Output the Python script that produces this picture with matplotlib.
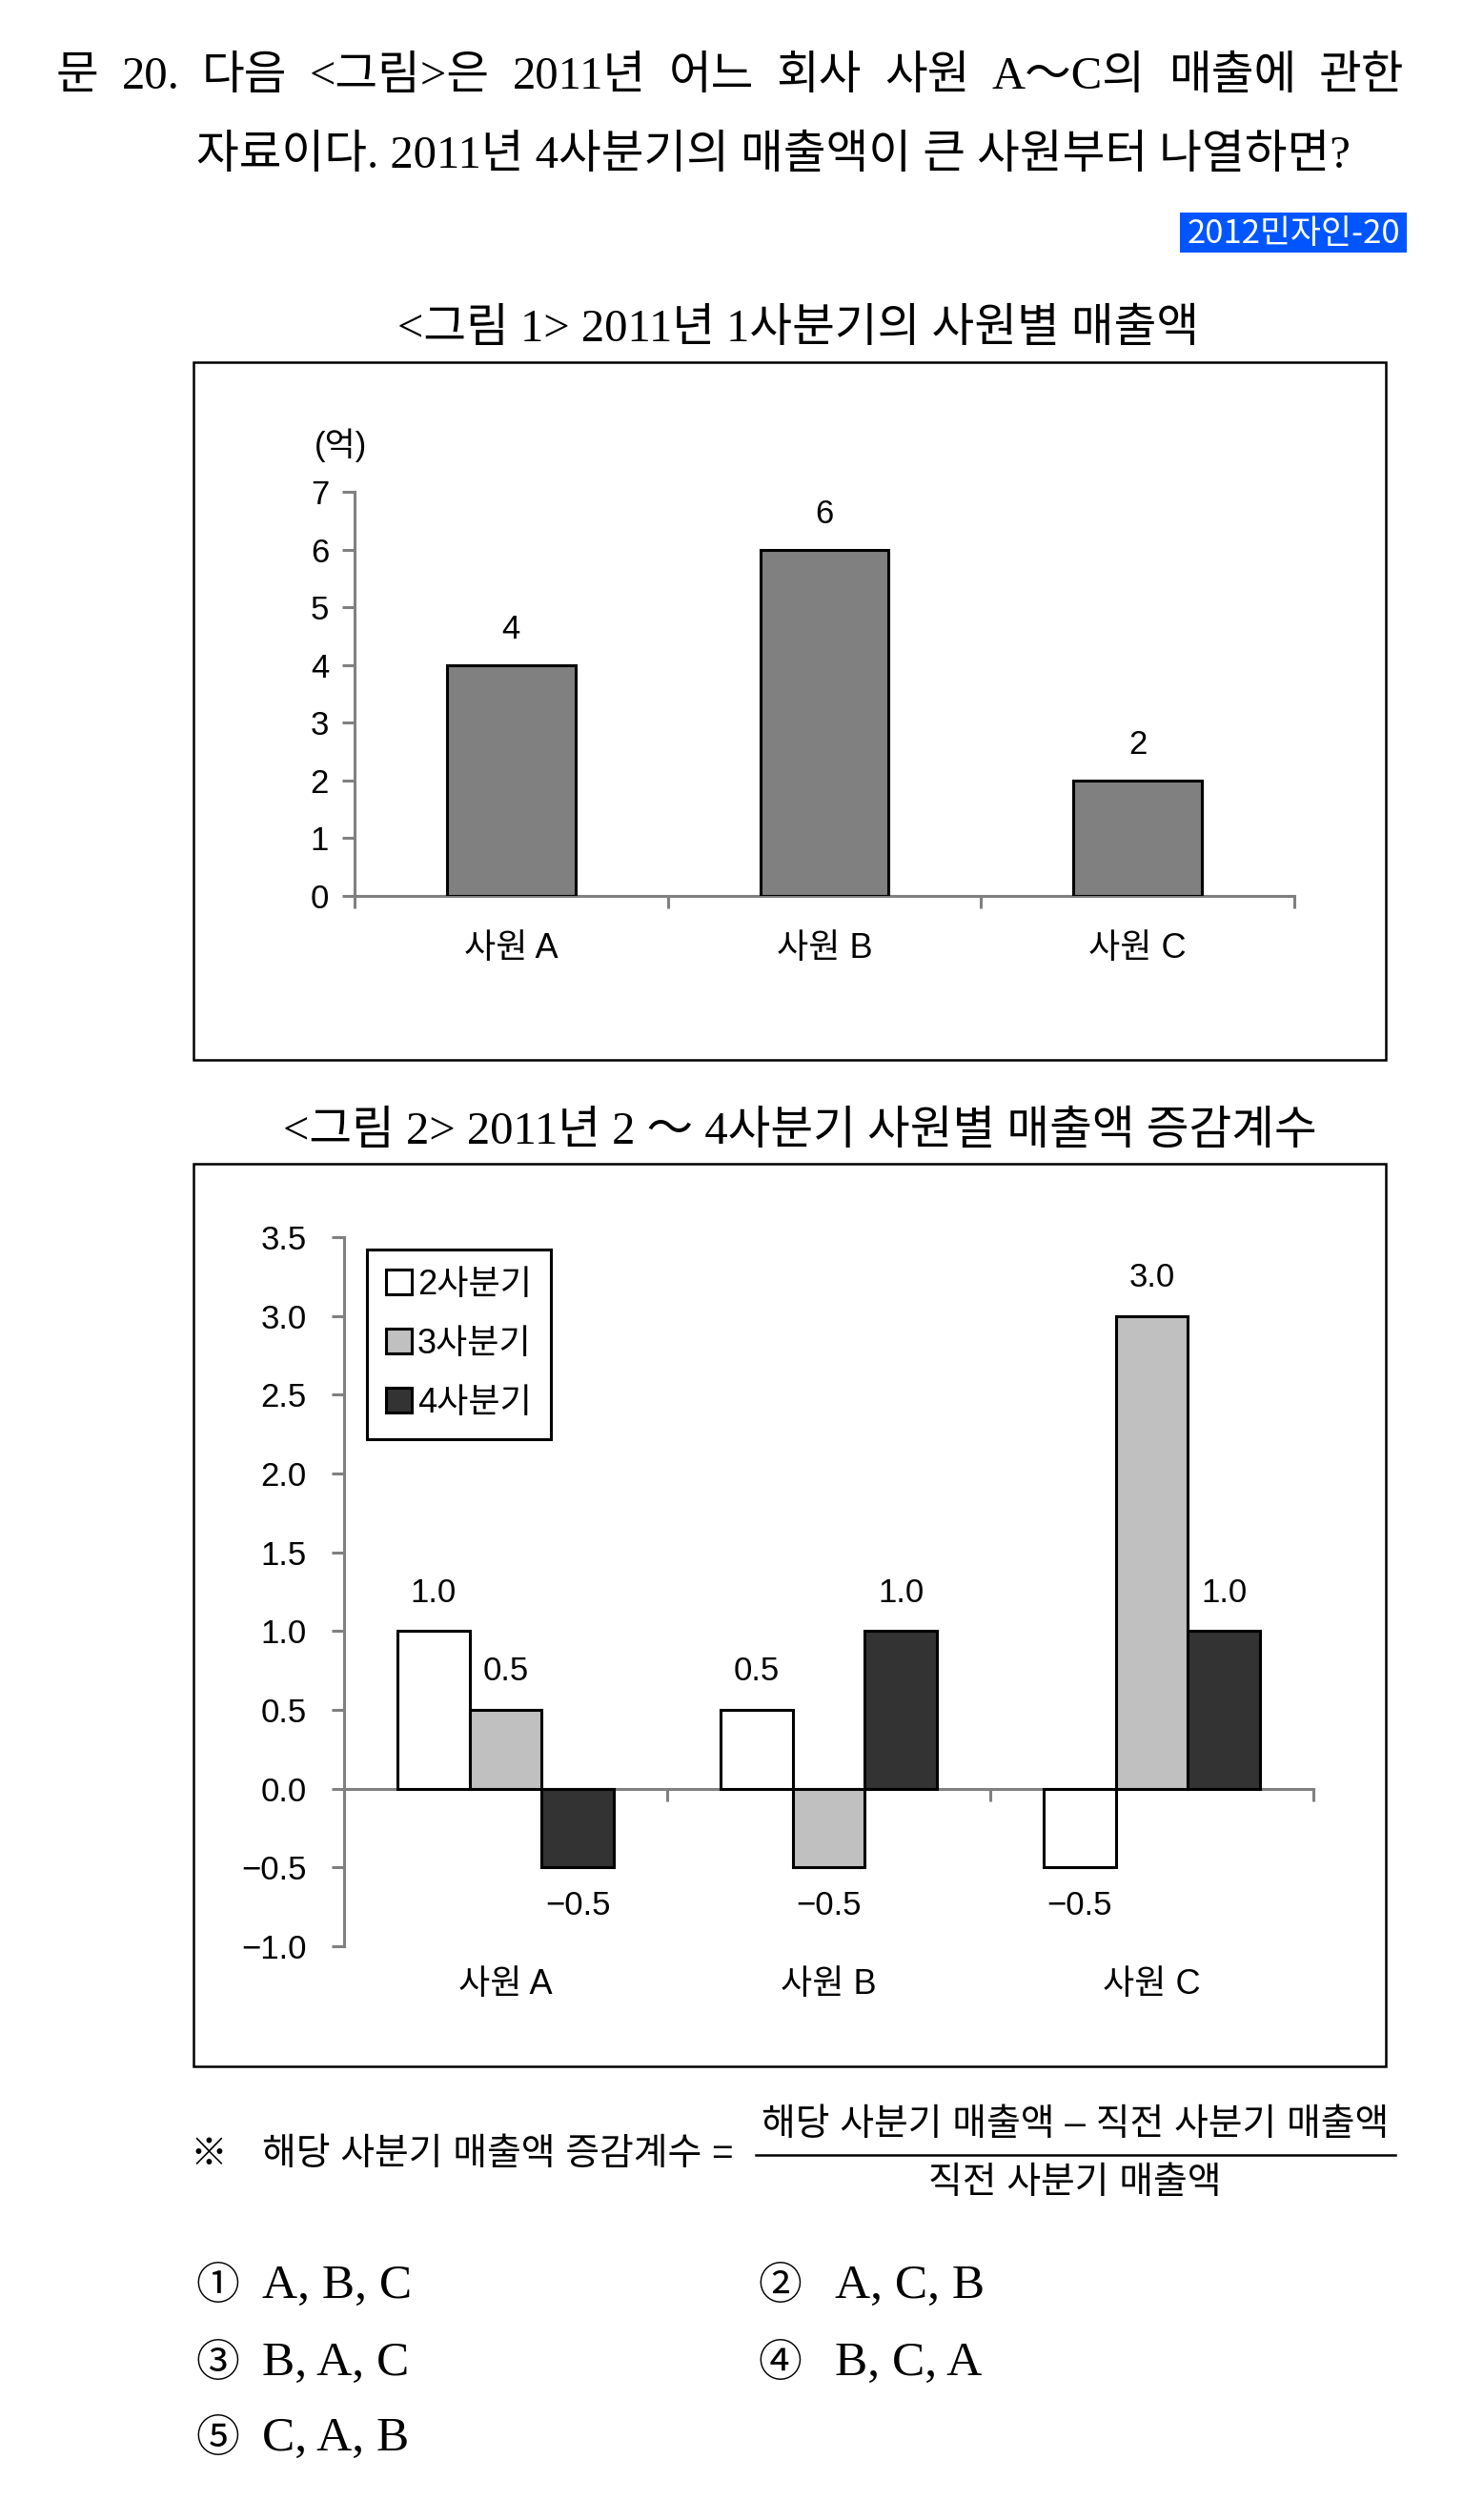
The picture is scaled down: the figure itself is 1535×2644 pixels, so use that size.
import matplotlib
matplotlib.use('Agg')
import matplotlib.pyplot as plt
from matplotlib.patches import Rectangle
from matplotlib.lines import Line2D
import matplotlib.transforms as mtransforms

# fonts: Latin first, Hangul falls back to Noto
SERIF = ['Liberation Serif', 'Noto Sans CJK KR', 'DejaVu Sans']
SANS = ['Liberation Sans', 'Noto Sans CJK KR', 'DejaVu Sans']
plt.rcParams['font.family'] = SANS

# ---- data ----
employees = ['사원 A', '사원 B', '사원 C']
q1_sales = [4, 6, 2]
y1_ticks = [0, 1, 2, 3, 4, 5, 6, 7]

quarters = ['2사분기', '3사분기', '4사분기']
rate_q2 = [1.0, 0.5, -0.5]
rate_q3 = [0.5, -0.5, 3.0]
rate_q4 = [-0.5, 1.0, 1.0]
y2_ticks = [-1.0, -0.5, 0.0, 0.5, 1.0, 1.5, 2.0, 2.5, 3.0, 3.5]

choices = ['A, B, C', 'A, C, B', 'B, A, C', 'B, C, A', 'C, A, B']
choice_marks = ['①', '②', '③', '④', '⑤']

AXIS_GRAY = '#808080'
W, H = 1535, 2644


def fx(x):
    return x / W


def fy(y):
    return 1 - y / H


fig = plt.figure(figsize=(W / 100, H / 100), dpi=100)
renderer = fig.canvas.get_renderer()


def justify(words, x0, x1, y, **kw):
    # spread words over [x0, x1] like a justified line
    texts = [fig.text(0, fy(y), w, ha='left', va='center', **kw) for w in words]
    widths = [t.get_window_extent(renderer).width for t in texts]
    gap = (x1 - x0 - sum(widths)) / (len(words) - 1)
    xx = x0
    for t, w in zip(texts, widths):
        t.set_x(fx(xx))
        xx += w + gap


# ---- question text ----
justify(['문', '20.', '다음', '<그림>은', '2011년', '어느', '회사', '사원', 'A～C의', '매출에', '관한'],
        59, 1473, 81, size=35, family=SERIF)
fig.text(fx(206), fy(164), '자료이다. 2011년 4사분기의 매출액이 큰 사원부터 나열하면?',
         ha='left', va='center', size=35, family=SERIF)

# source badge
fig.add_artist(Rectangle((fx(1238), fy(265)), (1476 - 1238) / W, 42 / H,
                         transform=fig.transFigure, fc='#0055FF', ec='none'))
fig.text(fx(1357), fy(245), '2012민자인-20', ha='center', va='center',
         size=25, color='white', family=['Noto Sans CJK KR'])


def style_axis(ax):
    for s in ['top', 'right']:
        ax.spines[s].set_visible(False)
    for s in ['left', 'bottom']:
        ax.spines[s].set_color(AXIS_GRAY)
        ax.spines[s].set_linewidth(2.2)
    ax.tick_params(axis='both', which='both', direction='out', length=9.4,
                   width=2.2, color=AXIS_GRAY, labelsize=25)
    ax.set_xticks([-0.5, 0.5, 1.5, 2.5])
    ax.set_xticklabels([])
    ax.set_xlim(-0.5, 2.5)
    ax.set_facecolor('none')


def frame(x0, y0, x1, y1):
    fig.add_artist(Rectangle((fx(x0), fy(y1)), (x1 - x0) / W, (y1 - y0) / H,
                             transform=fig.transFigure, fill=False, ec='black', lw=1.8))


# ---- figure 1 ----
fig.text(fx(838), fy(346), '<그림 1> 2011년 1사분기의 사원별 매출액',
         ha='center', va='center', size=35, family=SERIF)
frame(203, 380, 1454, 1112)

ax1 = fig.add_axes([fx(372), fy(940), (1358 - 372) / W, (940 - 516) / H])
style_axis(ax1)
x = list(range(len(employees)))
bars = ax1.bar(x, q1_sales, width=0.41, color='#808080', edgecolor='black', linewidth=2.2, zorder=3)
ax1.set_ylim(0, 7)
ax1.set_yticks(y1_ticks)
ax1.tick_params(axis='y', pad=10)
for b, v in zip(bars, q1_sales):
    ax1.annotate(str(v), (b.get_x() + b.get_width() / 2, v), xytext=(0, 15),
                 textcoords='offset points', ha='center', va='bottom', size=25)
trans1 = mtransforms.blended_transform_factory(ax1.transData, ax1.transAxes)
for i, name in enumerate(employees):
    ax1.text(i, -0.13, name, transform=trans1, ha='center', va='center', size=26)
fig.text(fx(357), fy(467), '(억)', ha='center', va='center', size=25)

# ---- figure 2 ----
fig.text(fx(839), fy(1188), '<그림 2> 2011년 2 ～ 4사분기 사원별 매출액 증감계수',
         ha='center', va='center', size=35, family=SERIF)
frame(203, 1221, 1454, 2168)

ax2 = fig.add_axes([fx(361), fy(2042), (1378 - 361) / W, (2042 - 1298) / H])
style_axis(ax2)
ax2.spines['bottom'].set_position(('data', 0))
ax2.set_ylim(-1.0, 3.5)
ax2.set_yticks(y2_ticks)
ax2.set_yticklabels([f'{t:.1f}'.replace('-', '\u2212') for t in y2_ticks])
ax2.tick_params(axis='y', pad=19)

bw = 0.224
series = [rate_q2, rate_q3, rate_q4]
colors = ['white', '#C0C0C0', '#333333']
for k, (vals, col, lab) in enumerate(zip(series, colors, quarters)):
    pos = [i + (k - 1) * bw for i in x]
    bs = ax2.bar(pos, vals, width=bw, color=col, edgecolor='black', linewidth=2.2,
                 label=lab, zorder=3)
    for b, v in zip(bs, vals):
        off = 17 if v >= 0 else -17
        ax2.annotate(f'{v:.1f}'.replace('-', '\u2212'), (b.get_x() + b.get_width() / 2, v),
                     xytext=(0, off), textcoords='offset points', ha='center',
                     va='bottom' if v >= 0 else 'top', size=25)

trans2 = mtransforms.blended_transform_factory(ax2.transData, ax2.transAxes)
for i, name in enumerate(employees):
    ax2.text(i, -0.055, name, transform=trans2, ha='center', va='center', size=26)

leg = ax2.legend(loc='upper left', bbox_to_anchor=(0.024, 0.983), borderaxespad=0,
                 fontsize=26, fancybox=False, framealpha=1, edgecolor='black',
                 handlelength=0.75, handleheight=0.75, handletextpad=0.15,
                 labelspacing=0.75, borderpad=0.55)
leg.get_frame().set_linewidth(2.2)

# ---- footnote formula ----
fig.text(fx(219), fy(2261), '※', ha='center', va='center', size=28, family=['Noto Sans CJK KR'])
fig.text(fx(275), fy(2261), '해당 사분기 매출액 증감계수 =', ha='left', va='center', size=28)
fig.add_artist(Line2D([fx(793), fx(1464)], [fy(2261), fy(2261)], transform=fig.transFigure,
                      color='black', lw=1.8))
fig.text(fx(1128), fy(2230), '해당 사분기 매출액 \u2013 직전 사분기 매출액', ha='center', va='center', size=28)
fig.text(fx(1128), fy(2291), '직전 사분기 매출액', ha='center', va='center', size=28)

# ---- answer choices ----
rows_y = [2399, 2399, 2480, 2480, 2559]
mark_x = [228, 818, 228, 818, 228]
text_x = [275, 876, 275, 876, 275]
for m, c, yy, mx, tx in zip(choice_marks, choices, rows_y, mark_x, text_x):
    fig.text(fx(mx), fy(yy), m, ha='center', va='center', size=33, family=['Noto Sans CJK KR'])
    fig.text(fx(tx), fy(yy), c, ha='left', va='center', size=37, family=SERIF)

fig.savefig('out.png', dpi=100, facecolor='white')
